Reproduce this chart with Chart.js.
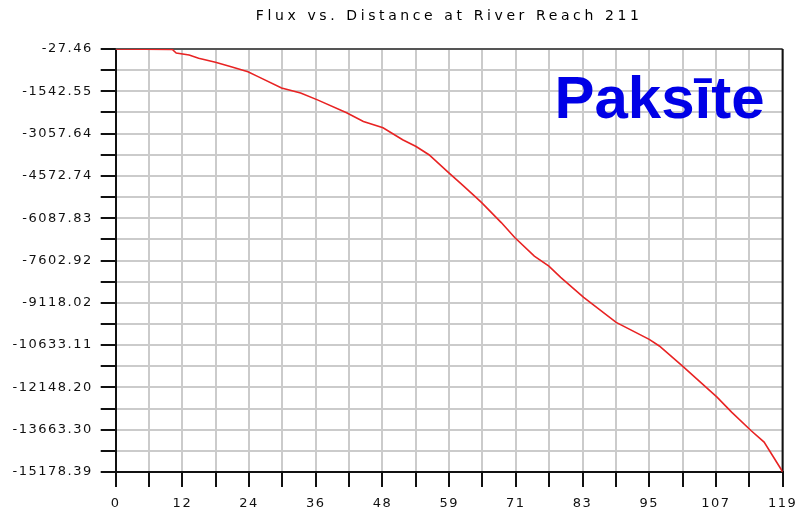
<!DOCTYPE html>
<html>
<head>
<meta charset="utf-8">
<title>Flux vs. Distance</title>
<script src="https://cdn.jsdelivr.net/npm/chart.js@4.4.1/dist/chart.umd.min.js"></script>
<style>
  html, body { margin: 0; padding: 0; background: #fff; }
  #wrap { width: 804px; height: 517px; }
</style>
</head>
<body>
<div id="wrap"><canvas id="fluxChart" width="804" height="517"></canvas></div>
<script>
// distance along the reach and cumulative flux read at each point
const distance = [0, 10.1, 10.8, 13.1, 14.8, 17.8, 20.6, 23.6, 25.4, 29.6, 33.0, 36.0, 41.2, 44.2,
  47.7, 51.2, 53.6, 55.9, 59.4, 61.8, 64.1, 65.3, 68.8, 71.2, 74.7, 77.3, 79.4, 83.5, 89.3,
  95.2, 97.0, 101.1, 107.3, 109.9, 113.4, 115.7, 118.7, 119];
const flux = [-27.46, -45, -170, -242, -360, -503, -660, -839, -1017, -1421, -1600, -1850, -2314, -2625,
  -2850, -3279, -3518, -3815, -4458, -4887, -5305, -5530, -6245, -6781, -7449, -7806, -8210, -8925, -9818,
  -10426, -10665, -11380, -12498, -13034, -13702, -14106, -15071, -15178.39];

const xTickLabels = ['0', '12', '24', '36', '48', '59', '71', '83', '95', '107', '119'];
const yTickLabels = ['-27.46', '-1542.55', '-3057.64', '-4572.74', '-6087.83', '-7602.92',
  '-9118.02', '-10633.11', '-12148.20', '-13663.30', '-15178.39'];

const titleText = 'Flux vs. Distance at River Reach 211';
const markText = 'Paksīte';

const X_MIN = 0, X_MAX = 119;
const Y_MAX = -27.46, Y_MIN = -15178.39;
const DIVS = 20;

const labelFont = { family: 'DejaVu Sans', size: 13 };

const extras = {
  id: 'extras',
  beforeDraw(chart) {
    // wider spacing for the axis numbers
    chart.ctx.letterSpacing = '1.5px';
  },
  beforeDatasetsDraw(chart) {
    // top and right edges of the plot frame, under the curve
    const { ctx, chartArea: a } = chart;
    ctx.save();
    ctx.lineWidth = 2;
    ctx.strokeStyle = '#555';
    ctx.beginPath();
    ctx.moveTo(a.left, a.top);
    ctx.lineTo(a.right, a.top);
    ctx.stroke();
    ctx.strokeStyle = '#111';
    ctx.beginPath();
    ctx.moveTo(a.right, a.top);
    ctx.lineTo(a.right, a.bottom);
    ctx.stroke();
    ctx.restore();
  },
  afterDraw(chart) {
    const { ctx, chartArea: a } = chart;
    ctx.save();
    // title
    ctx.letterSpacing = '3.6px';
    ctx.fillStyle = '#000';
    ctx.font = '14px "DejaVu Sans", sans-serif';
    ctx.textAlign = 'center';
    ctx.textBaseline = 'middle';
    ctx.fillText(titleText, (a.left + a.right) / 2, 16);
    // watermark
    ctx.letterSpacing = '0px';
    ctx.fillStyle = '#0000e6';
    ctx.font = 'bold 60px "Liberation Sans", Arial, sans-serif';
    ctx.textAlign = 'right';
    ctx.textBaseline = 'alphabetic';
    ctx.fillText(markText, a.right - 18, a.top + 69);
    ctx.restore();
  }
};

new Chart(document.getElementById('fluxChart'), {
  type: 'line',
  data: {
    datasets: [{
      data: distance.map((d, i) => ({ x: d, y: flux[i] })),
      borderColor: '#e82323',
      borderWidth: 1.6,
      pointRadius: 0,
      tension: 0,
      fill: false
    }]
  },
  options: {
    responsive: false,
    animation: false,
    layout: { padding: { right: 12, left: 0, top: 49, bottom: 0 } },
    plugins: {
      legend: { display: false },
      tooltip: { enabled: false },
      title: { display: false }
    },
    scales: {
      x: {
        type: 'linear',
        min: X_MIN,
        max: X_MAX,
        afterBuildTicks(scale) {
          scale.ticks = Array.from({ length: DIVS + 1 }, (_, i) => ({ value: X_MIN + i * (X_MAX - X_MIN) / DIVS }));
        },
        afterFit(scale) { scale.height = 45; },
        ticks: {
          autoSkip: false,
          maxRotation: 0,
          color: '#111',
          font: labelFont,
          padding: 9,
          callback: (v, i) => (i % 2 === 0 ? xTickLabels[i / 2] : '')
        },
        grid: {
          color: '#cbcbcb',
          lineWidth: 2,
          tickLength: 15,
          tickColor: '#111',
          tickWidth: 2
        },
        border: { color: '#111', width: 2 }
      },
      y: {
        type: 'linear',
        min: Y_MIN,
        max: Y_MAX,
        afterBuildTicks(scale) {
          scale.ticks = Array.from({ length: DIVS + 1 }, (_, i) => ({ value: Y_MAX - i * (Y_MAX - Y_MIN) / DIVS }));
        },
        afterFit(scale) { scale.width = 115.7; },
        ticks: {
          autoSkip: false,
          color: '#111',
          font: labelFont,
          padding: 8,
          callback: (v, i) => (i % 2 === 0 ? yTickLabels[i / 2] : '')
        },
        grid: {
          color: '#cbcbcb',
          lineWidth: 2,
          tickLength: 15,
          tickColor: '#111',
          tickWidth: 2
        },
        border: { color: '#111', width: 2 }
      }
    }
  },
  plugins: [extras]
});
</script>
</body>
</html>
